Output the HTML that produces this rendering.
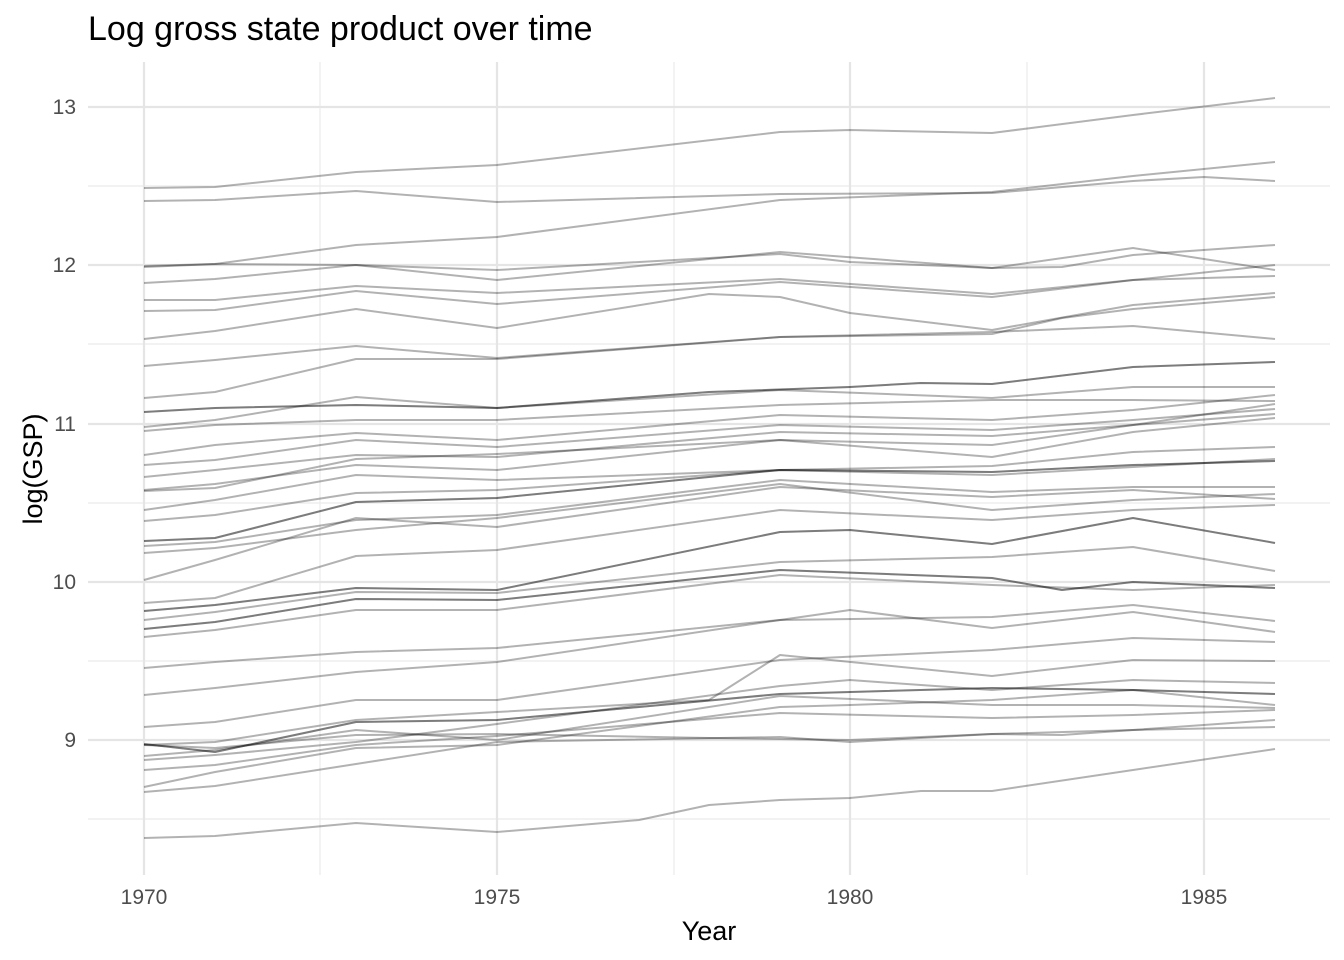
<!DOCTYPE html>
<html><head><meta charset="utf-8"><style>
html,body{margin:0;padding:0;background:#fff;}
svg{display:block;font-family:"Liberation Sans",sans-serif;}
</style></head><body>
<svg width="1344" height="960" viewBox="0 0 1344 960">
<rect width="1344" height="960" fill="#fff"/>
<g stroke="#ebebeb" stroke-width="1.2">
<line x1="88" x2="1330" y1="186" y2="186"/><line x1="88" x2="1330" y1="344" y2="344"/>
<line x1="88" x2="1330" y1="503" y2="503"/><line x1="88" x2="1330" y1="661" y2="661"/>
<line x1="88" x2="1330" y1="819" y2="819"/>
<line x1="320" x2="320" y1="62" y2="875"/><line x1="674" x2="674" y1="62" y2="875"/><line x1="1027" x2="1027" y1="62" y2="875"/>
</g>
<g stroke="#e5e5e5" stroke-width="2.2">
<line x1="88" x2="1330" y1="107" y2="107"/><line x1="88" x2="1330" y1="265" y2="265"/>
<line x1="88" x2="1330" y1="424" y2="424"/><line x1="88" x2="1330" y1="582" y2="582"/>
<line x1="88" x2="1330" y1="740" y2="740"/>
<line x1="144" x2="144" y1="62" y2="875"/><line x1="497" x2="497" y1="62" y2="875"/>
<line x1="850" x2="850" y1="62" y2="875"/><line x1="1204" x2="1204" y1="62" y2="875"/>
</g>
<g fill="none" stroke="#000" stroke-opacity="0.3" stroke-width="2" stroke-linejoin="round">
<polyline points="144,188 215,187 356,172 497,165 780,132 850,130 992,133 1133,115 1275,98"/>
<polyline points="144,201 215,200 356,191 497,202 780,194 992,193 1133,181 1204,177 1275,181"/>
<polyline points="144,267 215,264 356,245 497,237 780,200 992,192 1133,176 1275,162"/>
<polyline points="144,266 215,264 356,265 497,270 780,254 850,262 992,268 1062,267 1133,255 1275,245"/>
<polyline points="144,283 215,279 356,265 497,280 780,252 992,268 1133,248 1275,270"/>
<polyline points="144,300 215,300 356,286 497,293 780,279 992,294 1133,280 1275,265"/>
<polyline points="144,311 215,310 356,291 497,304 780,282 992,297 1133,280 1275,276"/>
<polyline points="144,339 215,331 356,309 497,328 709,294 780,297 850,313 992,330 1133,305 1275,293"/>
<polyline points="144,366 215,360 356,346 497,358 780,337 992,334 1062,318 1133,309 1275,297"/>
<polyline points="144,398 215,392 356,359 497,359 780,337 992,332 1133,326 1275,339"/>
<polyline points="144,412 215,408 356,405 497,408 709,392 850,387 921,383 992,384 1133,367 1275,362"/>
<polyline points="144,412 215,408 356,405 497,408 709,392 850,387 921,383 992,384 1133,367 1275,362"/>
<polyline points="144,427 215,420 356,397 497,408 780,390 992,398 1133,387 1275,387"/>
<polyline points="144,431 215,425 356,420 497,420 780,405 992,400 1133,400 1275,401"/>
<polyline points="144,455 215,445 356,433 497,440 780,415 992,420 1133,410 1275,395"/>
<polyline points="144,465 215,460 356,440 497,447 780,425 992,430 1133,420 1275,409"/>
<polyline points="144,477 215,470 356,455 497,457 780,432 992,436 1133,425 1275,414"/>
<polyline points="144,490 215,484 356,465 497,470 780,440 992,445 1133,425 1275,404"/>
<polyline points="144,491 215,488 356,459 497,454 780,440 992,457 1133,432 1275,418"/>
<polyline points="144,510 215,500 356,475 497,480 780,470 992,466 1133,452 1275,447"/>
<polyline points="144,521 215,515 356,493 497,490 780,470 992,475 1133,467 1275,459"/>
<polyline points="144,541 215,538 356,502 497,498 780,470 992,472 1133,465 1275,461"/>
<polyline points="144,541 215,538 356,502 497,498 780,470 992,472 1133,465 1275,461"/>
<polyline points="144,546 215,542 356,520 497,515 780,480 992,492 1133,487 1275,487"/>
<polyline points="144,553 215,548 356,530 497,518 780,484 992,510 1133,500 1275,494"/>
<polyline points="144,580 215,560 356,518 497,527 780,487 992,497 1133,490 1275,499"/>
<polyline points="144,603 215,598 356,556 497,550 780,510 992,520 1133,510 1275,505"/>
<polyline points="144,611 215,605 356,588 497,590 780,532 850,530 992,544 1133,518 1275,543"/>
<polyline points="144,611 215,605 356,588 497,590 780,532 850,530 992,544 1133,518 1275,543"/>
<polyline points="144,620 215,612 356,592 497,593 780,562 992,557 1133,547 1275,571"/>
<polyline points="144,629 215,622 356,599 497,600 780,570 992,578 1062,590 1133,582 1275,588"/>
<polyline points="144,629 215,622 356,599 497,600 780,570 992,578 1062,590 1133,582 1275,588"/>
<polyline points="144,637 215,630 356,610 497,610 780,575 992,585 1133,590 1275,585"/>
<polyline points="144,668 215,662 356,652 497,648 780,620 992,617 1133,605 1275,621"/>
<polyline points="144,695 215,688 356,672 497,662 780,620 850,610 992,628 1133,612 1275,632"/>
<polyline points="144,727 215,722 356,700 497,700 780,660 992,650 1133,638 1275,642"/>
<polyline points="144,744 215,752 356,722 497,720 780,694 992,688 1133,690 1275,694"/>
<polyline points="144,744 215,752 356,722 497,720 780,694 992,688 1133,690 1275,694"/>
<polyline points="144,745 215,742 356,720 497,712 709,700 780,655 992,676 1133,660 1275,661"/>
<polyline points="144,756 215,750 356,730 497,740 780,696 992,705 1133,705 1275,708"/>
<polyline points="144,760 215,755 356,742 497,724 780,686 850,680 992,690 1133,680 1275,683"/>
<polyline points="144,787 215,772 356,748 497,745 780,707 850,705 992,700 1133,690 1275,705"/>
<polyline points="144,792 215,786 356,764 497,742 780,737 850,742 992,734 1133,730 1275,727"/>
<polyline points="144,745 215,748 356,735 497,734 709,738 850,740 992,734 1062,735 1133,730 1275,720"/>
<polyline points="144,770 215,765 356,745 497,736 780,713 992,718 1133,715 1275,710"/>
<polyline points="144,838 215,836 356,823 497,832 639,820 709,805 780,800 850,798 921,791 992,791 1133,770 1275,749"/>
</g>
<g fill="#4d4d4d" font-size="21" text-anchor="end">
<text x="76" y="114">13</text><text x="76" y="272">12</text><text x="76" y="431">11</text>
<text x="76" y="589">10</text><text x="76" y="747">9</text>
</g>
<g fill="#4d4d4d" font-size="21" text-anchor="middle">
<text x="144" y="904">1970</text><text x="497" y="904">1975</text><text x="850" y="904">1980</text><text x="1204" y="904">1985</text>
</g>
<text x="709" y="940" font-size="27" text-anchor="middle" fill="#000">Year</text>
<text x="0" y="0" font-size="27" text-anchor="middle" fill="#000" transform="translate(42,469) rotate(-90)">log(GSP)</text>
<text x="88" y="40" font-size="34" fill="#000">Log gross state product over time</text>
</svg>
</body></html>
